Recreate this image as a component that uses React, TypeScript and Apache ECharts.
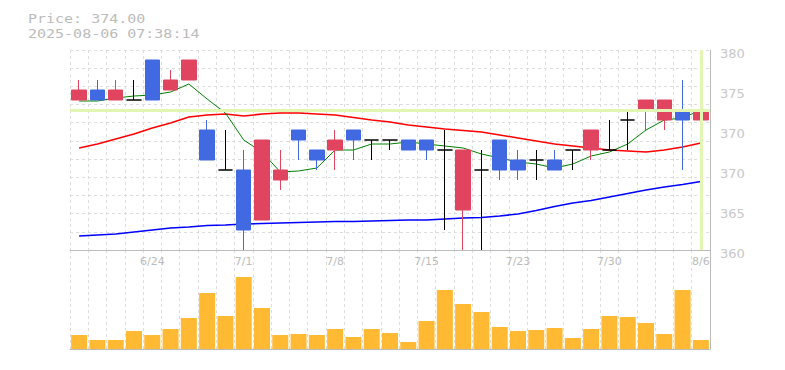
import React, { useEffect, useRef } from 'react';
import * as echarts from 'echarts';

const dates = ['6/18','6/19','6/20','6/23','6/24','6/25','6/26','6/27','6/30','7/1','7/2','7/3','7/4','7/7','7/8','7/9','7/10','7/11','7/14','7/15','7/16','7/17','7/18','7/22','7/23','7/24','7/25','7/28','7/29','7/30','7/31','8/1','8/4','8/5','8/6'];
const tickLabels = ['6/24','7/1','7/8','7/15','7/23','7/30','8/6'];

const opens  = [375,376,375,375,379,376,377,372,368,368,363,367,372,370,370,372,371,371,371,371,370,364,368,371,369,369,369,370,370,370,373,374,373,374,373];
const closes = [376,375,376,375,375,377,379,369,368,362,371,368,371,369,371,371,371,371,370,370,370,370,368,368,368,369,368,370,372,370,373,375,375,373,374];
const lows   = [375,375,375,375,375,376,377,369,368,360,363,366,369,368,368,369,369,370,370,369,362,360,360,367,367,367,368,368,369,370,370,372,372,368,373];
const highs  = [377,377,377,377,379,378,379,373,372,370,371,370,372,370,372,372,371,371,371,371,372,370,370,371,370,370,370,370,372,373,374,375,375,377,374];

const volumes = [1400,900,900,1800,1400,2000,3100,5600,3300,7200,4100,1400,1500,1400,2000,1200,2000,1600,700,2800,5900,4500,3700,2200,1800,1900,2100,1100,2000,3300,3200,2600,1500,5900,900];

const ma5  = [374.9,374.9,375.2,375.4,375.5,375.8,376.6,375.1,373.7,371.0,369.8,367.8,367.9,368.2,370.0,370.0,370.6,370.6,370.8,370.6,370.4,370.2,369.6,369.2,368.8,368.6,368.2,368.6,369.4,369.8,370.6,372.0,373.0,373.2,374.0];
const ma25 = [370.2,370.6,371.1,371.6,372.2,372.7,373.3,373.5,373.6,373.4,373.6,373.7,373.7,373.6,373.5,373.25,373.0,372.8,372.5,372.3,372.1,371.95,371.8,371.5,371.2,370.9,370.6,370.4,370.2,370.0,369.9,369.8,370.0,370.3,370.7];
const ma75 = [361.4,361.5,361.6,361.8,362.0,362.2,362.3,362.45,362.5,362.6,362.65,362.7,362.75,362.8,362.85,362.85,362.9,362.95,363.0,363.0,363.1,363.2,363.25,363.4,363.6,363.95,364.35,364.7,364.95,365.3,365.65,366.0,366.3,366.55,366.85];

const lastPrice = 374;
const priceText = 'Price: 374.00';
const timeText = '2025-08-06 07:38:14';

export default function App() {
  const ref = useRef<HTMLDivElement>(null);
  useEffect(() => {
    document.body.style.margin = '0';
    const chart = echarts.init(ref.current!, null, { renderer: 'svg' });
    const candleData = dates.map((_, i) => [opens[i], closes[i], lows[i], highs[i]]);
    const dash = { type: [3, 3] as any, color: '#dddddd', width: 1 };
    const headFont = '12.5px "DejaVu Sans Mono"';
    chart.setOption({
      animation: false,
      graphic: [
        {
          type: 'text', x: 28, y: 18.5, scaleX: 1.2,
          style: { text: priceText, font: headFont, fill: '#bbbbbb', verticalAlign: 'middle' },
        },
        {
          type: 'text', x: 28, y: 33.5, scaleX: 1.2,
          style: { text: timeText, font: headFont, fill: '#bbbbbb', verticalAlign: 'middle' },
        },
      ],
      grid: [
        { left: 70, top: 50, width: 640, height: 200 },
        { left: 70, top: 250, width: 640, height: 99 },
      ],
      xAxis: [
        {
          type: 'category', gridIndex: 0, data: dates, boundaryGap: true,
          axisLine: { show: true, lineStyle: { color: '#bbbbbb' } },
          axisTick: { show: false },
          axisLabel: {
            interval: (_i: number, v: string) => tickLabels.includes(v),
            color: '#bbbbbb', fontSize: 11, fontFamily: 'DejaVu Sans', margin: 6,
          },
          splitLine: { show: true, interval: 0, lineStyle: dash },
        },
        {
          type: 'category', gridIndex: 1, data: dates, boundaryGap: true,
          axisLine: { show: true, lineStyle: { color: '#bbbbbb' } },
          axisTick: { show: false },
          axisLabel: { show: false },
          splitLine: { show: true, interval: 0, lineStyle: dash },
        },
      ],
      yAxis: [
        {
          type: 'value', gridIndex: 0, position: 'right', min: 360, max: 380, interval: 4,
          axisLine: { show: true, lineStyle: { color: '#bbbbbb' } },
          axisTick: { show: false },
          splitLine: { show: false },
          axisLabel: {
            formatter: (v: number) => String(Math.round(v / 5) * 5),
            color: '#c8c8c8', fontSize: 13, fontFamily: 'DejaVu Sans', margin: 10,
            verticalAlign: 'top', lineHeight: 6, showMinLabel: true, showMaxLabel: true,
          },
        },
        {
          type: 'value', gridIndex: 0, position: 'left', min: 0, max: 11, interval: 1,
          axisLine: { show: false }, axisTick: { show: false }, axisLabel: { show: false },
          splitLine: { show: true, lineStyle: dash },
        },
        {
          type: 'value', gridIndex: 1, position: 'right', min: 0, max: 9900,
          axisLine: { show: true, lineStyle: { color: '#bbbbbb' } },
          axisTick: { show: false }, axisLabel: { show: false }, splitLine: { show: false },
        },
      ],
      series: [
        {
          type: 'line', xAxisIndex: 0, yAxisIndex: 0, data: dates.map(() => '-'), z: 1,
          symbol: 'none', silent: true,
          markLine: {
            silent: true, symbol: ['none', 'none'], label: { show: false },
            lineStyle: { color: '#e3f5b2', width: 3, type: 'solid' },
            data: [{ yAxis: lastPrice }, { xAxis: dates[dates.length - 1] }],
          },
        },
        { type: 'line', name: 'MA75', xAxisIndex: 0, yAxisIndex: 0, data: ma75, symbol: 'none', z: 2, lineStyle: { color: '#0000ff', width: 1.5 } },
        { type: 'line', name: 'MA25', xAxisIndex: 0, yAxisIndex: 0, data: ma25, symbol: 'none', z: 2, lineStyle: { color: '#ff0000', width: 1.5 } },
        { type: 'line', name: 'MA5', xAxisIndex: 0, yAxisIndex: 0, data: ma5, symbol: 'none', z: 2, lineStyle: { color: '#008000', width: 1 } },
        {
          type: 'candlestick', xAxisIndex: 0, yAxisIndex: 0, data: candleData, barWidth: 15, z: 3,
          itemStyle: {
            color: '#e0445f', color0: '#4169e1', borderColor: '#e0445f', borderColor0: '#4169e1',
            borderColorDoji: '#000000', borderWidth: 1,
          },
        },
        {
          type: 'bar', xAxisIndex: 1, yAxisIndex: 2, data: volumes, barWidth: 16,
          itemStyle: { color: '#ffb933' },
        },
      ],
    });
    return () => chart.dispose();
  }, []);
  return <div ref={ref} style={{ width: 785, height: 370 }} />;
}
